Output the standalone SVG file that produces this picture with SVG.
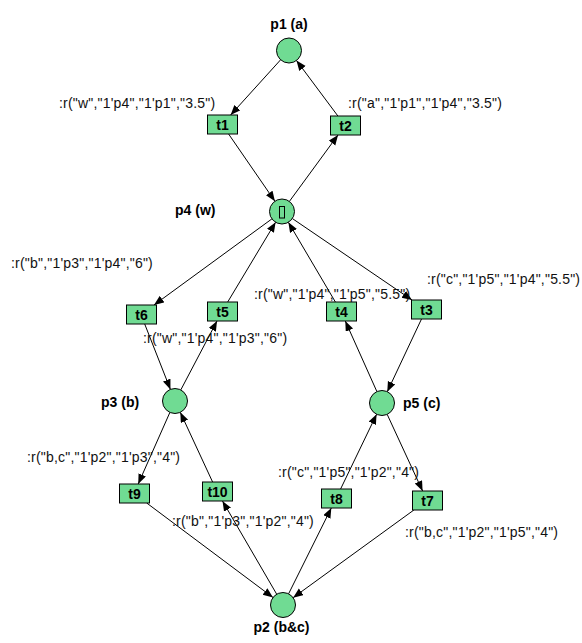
<svg xmlns="http://www.w3.org/2000/svg" width="582" height="643" viewBox="0 0 582 643">
<style>
.pl{fill:#70db93;stroke:#000;stroke-width:1}
.tr{fill:#70db93;stroke:#000;stroke-width:1}
.nm{font-family:"Liberation Sans",Arial,sans-serif;font-size:14px;font-weight:bold;fill:#000}
.tn{font-family:"Liberation Sans",Arial,sans-serif;font-size:14px;font-weight:bold;fill:#000;text-anchor:middle}
.lb{font-family:"Liberation Sans",Arial,sans-serif;font-size:14px;fill:#111;letter-spacing:0.2px}
.e{stroke:#000;stroke-width:1;fill:none;marker-end:url(#ah)}
</style>
<defs>
<marker id="ah" markerUnits="userSpaceOnUse" markerWidth="11" markerHeight="9" refX="10" refY="4" orient="auto">
<path d="M0,0 L10,4 L0,8 z" fill="#000"/>
</marker>
</defs>
<rect width="582" height="643" fill="#fff"/>
<g id="connectors">
<line class="e" x1="280.6" y1="59.8" x2="230.6" y2="115"/>
<line class="e" x1="337.9" y1="116" x2="296.5" y2="60.5"/>
<line class="e" x1="228.6" y1="134" x2="274.9" y2="201.2"/>
<line class="e" x1="289.4" y1="201.4" x2="338" y2="135"/>
<line class="e" x1="271.9" y1="218.9" x2="154" y2="305"/>
<line class="e" x1="227.7" y1="302" x2="275.6" y2="222.2"/>
<line class="e" x1="335.4" y1="302" x2="288.4" y2="222.3"/>
<line class="e" x1="292.3" y1="218.5" x2="412" y2="300"/>
<line class="e" x1="144.7" y1="324" x2="170.4" y2="389.4"/>
<line class="e" x1="180.8" y1="389.9" x2="217" y2="321"/>
<line class="e" x1="376.9" y1="391.6" x2="345.3" y2="321"/>
<line class="e" x1="421.5" y1="319" x2="387.3" y2="391.7"/>
<line class="e" x1="169.9" y1="412.4" x2="138.2" y2="484"/>
<line class="e" x1="212.6" y1="482" x2="180.3" y2="412.3"/>
<line class="e" x1="146.7" y1="503" x2="273" y2="597.5"/>
<line class="e" x1="276.7" y1="594.2" x2="222.5" y2="501"/>
<line class="e" x1="288.6" y1="593.8" x2="331.3" y2="508"/>
<line class="e" x1="340.6" y1="489" x2="376.6" y2="414.3"/>
<line class="e" x1="387.2" y1="414.4" x2="422.6" y2="491"/>
<line class="e" x1="413.9" y1="510" x2="293.1" y2="597.7"/>
</g>
<g id="p1">
<circle class="pl" cx="289" cy="50.5" r="12.5"/>
<text class="nm" x="289" y="29" text-anchor="middle">p1 (a)</text>
</g>
<g id="p4">
<circle class="pl" cx="282" cy="211.5" r="12.5"/>
<rect x="279.5" y="206.5" width="5" height="11.5" fill="none" stroke="#000" stroke-width="1"/>
<text class="nm" x="175" y="215">p4 (w)</text>
</g>
<g id="p3">
<circle class="pl" cx="175" cy="401" r="12.5"/>
<text class="nm" x="101" y="407">p3 (b)</text>
</g>
<g id="p5">
<circle class="pl" cx="382" cy="403" r="12.5"/>
<text class="nm" x="403" y="408">p5 (c)</text>
</g>
<g id="p2">
<circle class="pl" cx="283" cy="605" r="12.5"/>
<text class="nm" x="281.5" y="632" text-anchor="middle">p2 (b&amp;c)</text>
</g>
<g id="t1">
<rect class="tr" x="207.5" y="115" width="30" height="19"/>
<text class="tn" x="222.5" y="130">t1</text>
<text class="lb" x="59" y="108">:r("w","1'p4","1'p1","3.5")</text>
</g>
<g id="t2">
<rect class="tr" x="330.5" y="116" width="30" height="19"/>
<text class="tn" x="345.5" y="131">t2</text>
<text class="lb" x="348" y="108">:r("a","1'p1","1'p4","3.5")</text>
</g>
<g id="t6">
<rect class="tr" x="126.5" y="305" width="30" height="19"/>
<text class="tn" x="141.5" y="320">t6</text>
<text class="lb" x="11" y="268">:r("b","1'p3","1'p4","6")</text>
</g>
<g id="t5">
<rect class="tr" x="207.5" y="302" width="30" height="19"/>
<text class="tn" x="222.5" y="317">t5</text>
<text class="lb" x="143" y="343">:r("w","1'p4","1'p3","6")</text>
</g>
<g id="t4">
<rect class="tr" x="326.5" y="302" width="30" height="19"/>
<text class="tn" x="341.5" y="317">t4</text>
<text class="lb" x="254" y="299">:r("w","1'p4","1'p5","5.5")</text>
</g>
<g id="t3">
<rect class="tr" x="411.5" y="300" width="30" height="19"/>
<text class="tn" x="426.5" y="315">t3</text>
<text class="lb" x="427" y="284">:r("c","1'p5","1'p4","5.5")</text>
</g>
<g id="t9">
<rect class="tr" x="119.5" y="484" width="30" height="19"/>
<text class="tn" x="134.5" y="499">t9</text>
<text class="lb" x="27" y="462">:r("b,c","1'p2","1'p3","4")</text>
</g>
<g id="t10">
<rect class="tr" x="202.5" y="482" width="30" height="19"/>
<text class="tn" x="217.5" y="497">t10</text>
<text class="lb" x="172" y="526">:r("b","1'p3","1'p2","4")</text>
</g>
<g id="t8">
<rect class="tr" x="321.5" y="489" width="30" height="19"/>
<text class="tn" x="336.5" y="504">t8</text>
<text class="lb" x="278" y="477">:r("c","1'p5","1'p2","4")</text>
</g>
<g id="t7">
<rect class="tr" x="412.5" y="491" width="30" height="19"/>
<text class="tn" x="427.5" y="506">t7</text>
<text class="lb" x="405" y="537">:r("b,c","1'p2","1'p5","4")</text>
</g>
</svg>
